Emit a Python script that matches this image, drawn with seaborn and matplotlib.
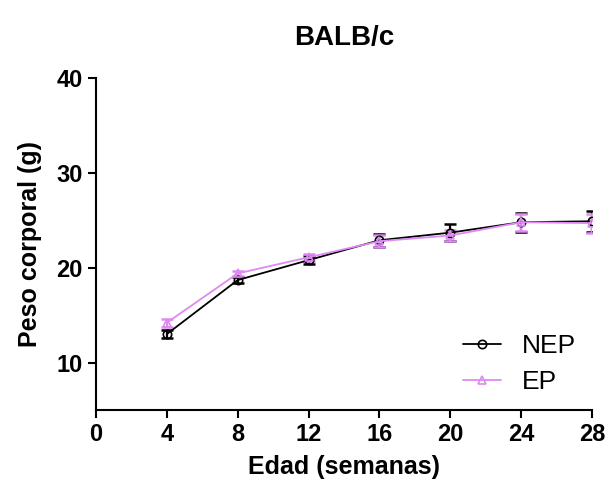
import seaborn as sns
import matplotlib.pyplot as plt
import pandas as pd

# Body weight (mean +/- SEM)
weeks = [4, 8, 12, 16, 20, 24, 28]
nep_mean = [13.0, 18.7, 20.8, 22.9, 23.7, 24.8, 24.9]
nep_sem = [0.4, 0.3, 0.4, 0.7, 0.9, 1.0, 1.1]
ep_mean = [14.2, 19.4, 21.1, 22.8, 23.4, 24.8, 24.7]
ep_sem = [0.4, 0.3, 0.4, 0.6, 0.6, 0.9, 1.0]

groups = ["NEP", "EP"]
colors = {"NEP": "black", "EP": "#DE8AF2"}
markers = {"NEP": "o", "EP": "^"}

df = pd.DataFrame({
    "Edad": weeks * 2,
    "Peso": nep_mean + ep_mean,
    "sem": nep_sem + ep_sem,
    "grupo": ["NEP"] * len(weeks) + ["EP"] * len(weeks),
})

sns.set_style("ticks")
plt.rcParams["font.family"] = ["Liberation Sans", "DejaVu Sans"]
for k in ["text.color", "axes.labelcolor", "xtick.color", "ytick.color", "axes.edgecolor"]:
    plt.rcParams[k] = "black"

fig = plt.figure(figsize=(6.11, 4.91), dpi=100)
ax = fig.add_axes([0.157, 0.165, 0.812, 0.676])

for g in groups:
    sub = df[df["grupo"] == g]
    ax.errorbar(sub["Edad"], sub["Peso"], yerr=sub["sem"], fmt="none",
                ecolor=colors[g], elinewidth=1.6, capsize=4, capthick=1.8, zorder=2)

n_before = len(ax.get_lines())
sns.lineplot(data=df, x="Edad", y="Peso", hue="grupo", style="grupo",
             hue_order=groups, style_order=groups, palette=colors,
             markers=markers, dashes=False, linewidth=1.3, markersize=6,
             ax=ax, zorder=3)

# open markers with edge in series colour
for line in ax.get_lines()[n_before:]:
    line.set_markeredgecolor(line.get_color())
    line.set_markerfacecolor("none")
    line.set_markeredgewidth(1.2)

ax.set_xlim(0, 28)
ax.set_ylim(5, 40)
ax.set_xticks(range(0, 29, 4))
ax.set_yticks([10, 20, 30, 40])
ax.tick_params(axis="both", labelsize=17, width=1.5, length=6, direction="out")
for lab in ax.get_xticklabels() + ax.get_yticklabels():
    lab.set_fontweight("bold")
for s in ["left", "bottom"]:
    ax.spines[s].set_linewidth(1.5)
sns.despine(ax=ax)

ax.set_xlabel("Edad (semanas)", fontsize=18, fontweight="bold", labelpad=6)
ax.set_ylabel("Peso corporal (g)", fontsize=18, fontweight="bold", labelpad=10)
ax.set_title("BALB/c", fontsize=20, fontweight="bold", pad=24)

handles, labels = ax.get_legend_handles_labels()
for h in handles:
    h.set_markerfacecolor("none")
    h.set_markeredgecolor(h.get_color())
    h.set_markeredgewidth(1.2)
ax.legend(handles, labels, loc="lower right", frameon=False, fontsize=19,
          handlelength=1.45, handletextpad=0.8, labelspacing=0.45,
          borderaxespad=0.2)

plt.savefig("out.png", dpi=100)
plt.close()
